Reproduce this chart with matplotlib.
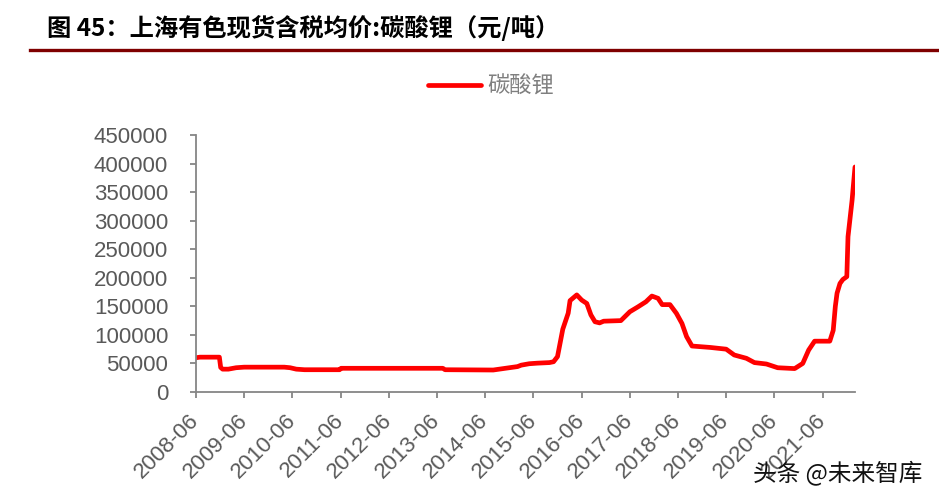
import matplotlib

matplotlib.use("Agg")
import matplotlib.pyplot as plt
import pandas as pd
from matplotlib.lines import Line2D

plt.rcParams["font.family"] = ["Liberation Sans", "Noto Sans CJK SC", "DejaVu Sans"]

# values (yuan / tonne)
dates = [
    "2008-06-01", "2008-07-01", "2008-11-25", "2008-12-05", "2008-12-20",
    "2009-02-01", "2009-04-01", "2009-06-01", "2010-04-01", "2010-05-15",
    "2010-07-01", "2010-09-01", "2011-05-25", "2011-06-05", "2013-07-15",
    "2013-08-01", "2014-08-01", "2014-10-01", "2014-12-01", "2015-02-01",
    "2015-03-01", "2015-05-01", "2015-07-01", "2015-10-01", "2015-11-01",
    "2015-12-01", "2016-01-10", "2016-02-20", "2016-03-05", "2016-04-25",
    "2016-06-01", "2016-07-10", "2016-08-10", "2016-09-10", "2016-10-15",
    "2016-11-15", "2017-03-25", "2017-06-01", "2017-08-01", "2017-10-01",
    "2017-11-15", "2018-01-01", "2018-02-01", "2018-04-01", "2018-05-20",
    "2018-07-01", "2018-08-05", "2018-09-15", "2019-02-01", "2019-06-01",
    "2019-08-01", "2019-11-01", "2020-01-01", "2020-04-01", "2020-06-25",
    "2020-11-01", "2021-01-01", "2021-02-15", "2021-04-01", "2021-07-25",
    "2021-08-20", "2021-09-05", "2021-09-18", "2021-10-10", "2021-11-01",
    "2021-12-01", "2021-12-10", "2022-01-10", "2022-02-01",
]
price = [
    60000, 61000, 61000, 43000, 40000,
    40000, 42500, 43500, 43500, 42500,
    40000, 39000, 39000, 41500, 41500,
    39000, 38500, 40500, 42500, 44500,
    47000, 49500, 50500, 51500, 53000,
    62000, 110000, 138000, 160000, 170000,
    161000, 155000, 135000, 123000, 121000,
    124000, 125000, 140500, 149000, 158000,
    168000, 164000, 153000, 153000, 137700,
    120000, 97000, 80500, 78000, 75000,
    64800, 59000, 51500, 49000, 42500,
    41000, 50000, 73500, 89000, 89000,
    108000, 150000, 173000, 190000, 197000,
    202000, 272000, 336000, 394000,
]
tick_years = list(range(2008, 2022))
yticks = list(range(0, 450001, 50000))

s = pd.Series(price, index=pd.to_datetime(dates))

fig = plt.figure(figsize=(9.39, 4.99), dpi=100)
ax = fig.add_axes([196 / 939, 1 - 392 / 499, (855 - 196) / 939, (392 - 135) / 499])

line, = ax.plot(s.index, s.values, color="#ff0000", linewidth=3.4,
                solid_joinstyle="round", solid_capstyle="round", label="碳酸锂")

ax.set_xlim(pd.Timestamp("2008-06-01"), pd.Timestamp("2022-02-01"))
ax.set_ylim(0, 450000)
tick_pos = [pd.Timestamp(f"{y}-06-01") for y in tick_years]
ax.set_xticks(tick_pos)
ax.set_xticklabels([f"{y}-06" for y in tick_years], rotation=45, ha="right",
                   va="center", rotation_mode="anchor")
ax.set_yticks(yticks)
ax.set_yticklabels([str(v) for v in yticks])

grey = "#868686"
for side in ("top", "right"):
    ax.spines[side].set_visible(False)
for side in ("left", "bottom"):
    ax.spines[side].set_color(grey)
    ax.spines[side].set_linewidth(1.3)
ax.tick_params(axis="both", direction="out", length=4, width=1.3, color=grey,
               labelcolor="#595959", labelsize=16)
ax.tick_params(axis="y", pad=16)
ax.tick_params(axis="x", pad=14)

fig.legend(handles=[line], loc="center", bbox_to_anchor=(491 / 939, 1 - 86 / 499),
           frameon=False, handlelength=2.4, handletextpad=0.3,
           prop={"family": ["Noto Sans CJK SC"], "size": 16}, labelcolor="#7f7f7f")

fig.text(47 / 939, 1 - 28 / 499, "图 45：上海有色现货含税均价:碳酸锂（元/吨）",
         family=["Noto Sans CJK SC", "DejaVu Sans"], fontsize=17.5, fontweight="bold",
         color="black", ha="left", va="center")
fig.add_artist(Line2D([30 / 939, 1.0], [1 - 50 / 499, 1 - 50 / 499],
                      transform=fig.transFigure, color="#7f0000", linewidth=2.4))

fig.text(753 / 939, 1 - 473 / 499, "头条 @未来智库",
         family=["Noto Sans CJK SC", "DejaVu Sans"], fontsize=17,
         color="#111111", ha="left", va="center")

fig.savefig("out.png", dpi=100)
